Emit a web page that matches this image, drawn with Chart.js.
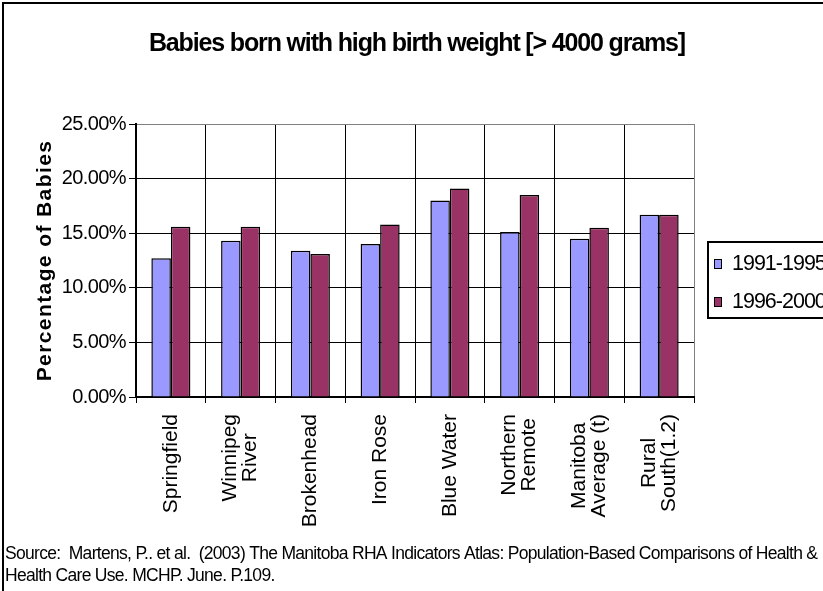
<!DOCTYPE html>
<html>
<head>
<meta charset="utf-8">
<title>Babies born with high birth weight</title>
<script src="https://cdn.jsdelivr.net/npm/chart.js@4.4.1/dist/chart.umd.min.js"></script>
<style>
  html, body { margin: 0; padding: 0; background: #fff; }
  #wrap { width: 823px; height: 591px; }
  canvas { display: block; }
</style>
</head>
<body>
<div id="wrap"><canvas id="chart" width="823" height="591"></canvas></div>
<script>
// ---- data ----
const categories = [
  ['Springfield'],
  ['Winnipeg', 'River'],
  ['Brokenhead'],
  ['Iron Rose'],
  ['Blue Water'],
  ['Northern', 'Remote'],
  ['Manitoba', 'Average (t)'],
  ['Rural', 'South(1.2)']
];
const seriesNames = ['1991-1995', '1996-2000'];
const values1991to1995 = [12.7, 14.3, 13.4, 14.0, 18.0, 15.1, 14.5, 16.7];
const values1996to2000 = [15.6, 15.6, 13.1, 15.8, 19.1, 18.5, 15.5, 16.7];
const yTickValues = [0, 5, 10, 15, 20, 25];
const titleText = 'Babies born with high birth weight [> 4000 grams]';
const yAxisTitle = 'Percentage of Babies';
const sourceLines = [
  'Source:  Martens, P.. et al.  (2003) The Manitoba RHA Indicators Atlas: Population-Based Comparisons of Health &',
  'Health Care Use. MCHP. June. P.109.'
];

// ---- styling ----
const FONT = '"Liberation Sans", Arial, Helvetica, sans-serif';
const COLORS = ['#9999FF', '#993366'];

// Tight, Excel-like lettering: spacing chosen per font
const letterSpacingRules = [
  [/^bold 25px/, -1.15],
  [/^bold 21px/, 1.4],
  [/^21\.5px/, -1.0],
  [/^21px/, 0],
  [/^20px/, -0.6]
];

const canvas = document.getElementById('chart');
const ctx2d = canvas.getContext('2d');
const baseFillText = ctx2d.fillText;
const baseMeasureText = ctx2d.measureText;
function applySpacing(c) {
  for (const [re, s] of letterSpacingRules) {
    if (re.test(c.font)) { c.letterSpacing = s + 'px'; return; }
  }
}
ctx2d.fillText = function (text, x, y, maxWidth) {
  applySpacing(this);
  return maxWidth === undefined ? baseFillText.call(this, text, x, y)
                                : baseFillText.call(this, text, x, y, maxWidth);
};
ctx2d.measureText = function (text) {
  applySpacing(this);
  return baseMeasureText.call(this, text);
};

// Title, category labels, legend box, source note and outer frame
const decorPlugin = {
  id: 'decor',
  beforeDraw(chart) {
    const { ctx, width, height } = chart;
    ctx.save();
    ctx.fillStyle = '#ffffff';
    ctx.fillRect(0, 0, width, height);
    ctx.restore();
  },
  afterDraw(chart) {
    const { ctx, width, height, chartArea } = chart;
    const xScale = chart.scales.x;
    ctx.save();
    ctx.fillStyle = '#000';
    ctx.strokeStyle = '#000';

    // outer frame
    ctx.lineWidth = 2;
    ctx.strokeRect(3, 3, width + 20, height + 20);

    // chart title
    ctx.font = 'bold 25px ' + FONT;
    ctx.textAlign = 'center';
    ctx.textBaseline = 'alphabetic';
    ctx.fillText(titleText, 417, 51);

    // rotated category labels, lines centred on each category
    ctx.font = '21px ' + FONT;
    categories.forEach((lines, i) => {
      const px = xScale.getPixelForTick(i);
      const w = Math.max(...lines.map(l => ctx.measureText(l).width));
      ctx.save();
      ctx.translate(px, chartArea.bottom + 17);
      ctx.rotate(-Math.PI / 2);
      ctx.textAlign = 'center';
      ctx.textBaseline = 'middle';
      lines.forEach((l, j) => ctx.fillText(l, -w / 2, (j - (lines.length - 1) / 2) * 20));
      ctx.restore();
    });

    // legend
    ctx.lineWidth = 2;
    ctx.strokeRect(708, 242, 200, 76);
    ctx.font = '21.5px ' + FONT;
    ctx.textAlign = 'left';
    ctx.textBaseline = 'middle';
    chart.data.datasets.forEach((ds, i) => {
      const cy = 264 + i * 38;
      ctx.fillStyle = ds.backgroundColor;
      ctx.fillRect(714, cy - 5, 8, 10);
      ctx.lineWidth = 1;
      ctx.strokeRect(714.5, cy - 4.5, 7, 9);
      ctx.fillStyle = '#000';
      ctx.fillText(ds.label, 732, cy);
    });

    // source note, fitted across the frame
    ctx.font = '17.5px ' + FONT;
    ctx.letterSpacing = '0px';
    const natural = baseMeasureText.call(ctx, sourceLines[0]).width;
    const sp = (813 - natural) / (sourceLines[0].length - 1);
    ctx.letterSpacing = sp + 'px';
    ctx.textBaseline = 'alphabetic';
    baseFillText.call(ctx, sourceLines[0], 5, 559);
    baseFillText.call(ctx, sourceLines[1], 5, 581);
    ctx.restore();
  }
};

new Chart(canvas, {
  type: 'bar',
  data: {
    labels: categories,
    datasets: [
      { label: seriesNames[0], data: values1991to1995, backgroundColor: COLORS[0] },
      { label: seriesNames[1], data: values1996to2000, backgroundColor: COLORS[1] }
    ]
  },
  options: {
    responsive: false,
    animation: false,
    layout: { padding: { top: 124, right: 129, bottom: 0, left: 0 } },
    datasets: {
      bar: {
        borderColor: '#000',
        borderWidth: 1.5,
        barPercentage: 1.0,
        categoryPercentage: 0.56
      }
    },
    plugins: {
      legend: { display: false },
      title: { display: false },
      tooltip: { enabled: false }
    },
    scales: {
      x: {
        afterFit: s => { s.height = 194; },
        ticks: { display: false },
        grid: {
          offset: true,
          color: c => (c.tick ? '#000' : '#808080'),
          lineWidth: 1,
          tickLength: 6,
          tickColor: '#000'
        },
        border: { color: '#000', width: 2 }
      },
      y: {
        min: 0,
        max: 25,
        afterBuildTicks: s => { s.ticks = yTickValues.map(v => ({ value: v })); },
        afterFit: s => { s.width = 136; },
        ticks: {
          color: '#000',
          font: { family: FONT, size: 20 },
          padding: 3,
          callback: v => v.toFixed(2) + '%'
        },
        grid: {
          color: c => (c.tick && c.tick.value === 25 ? '#808080' : '#000'),
          lineWidth: 1,
          tickLength: 7,
          tickColor: '#000'
        },
        border: { color: '#000', width: 2 },
        title: {
          display: true,
          text: yAxisTitle,
          color: '#000',
          font: { family: FONT, size: 21, weight: 'bold' },
          padding: { top: 33, bottom: 0 }
        }
      }
    }
  },
  plugins: [decorPlugin]
});
</script>
</body>
</html>
